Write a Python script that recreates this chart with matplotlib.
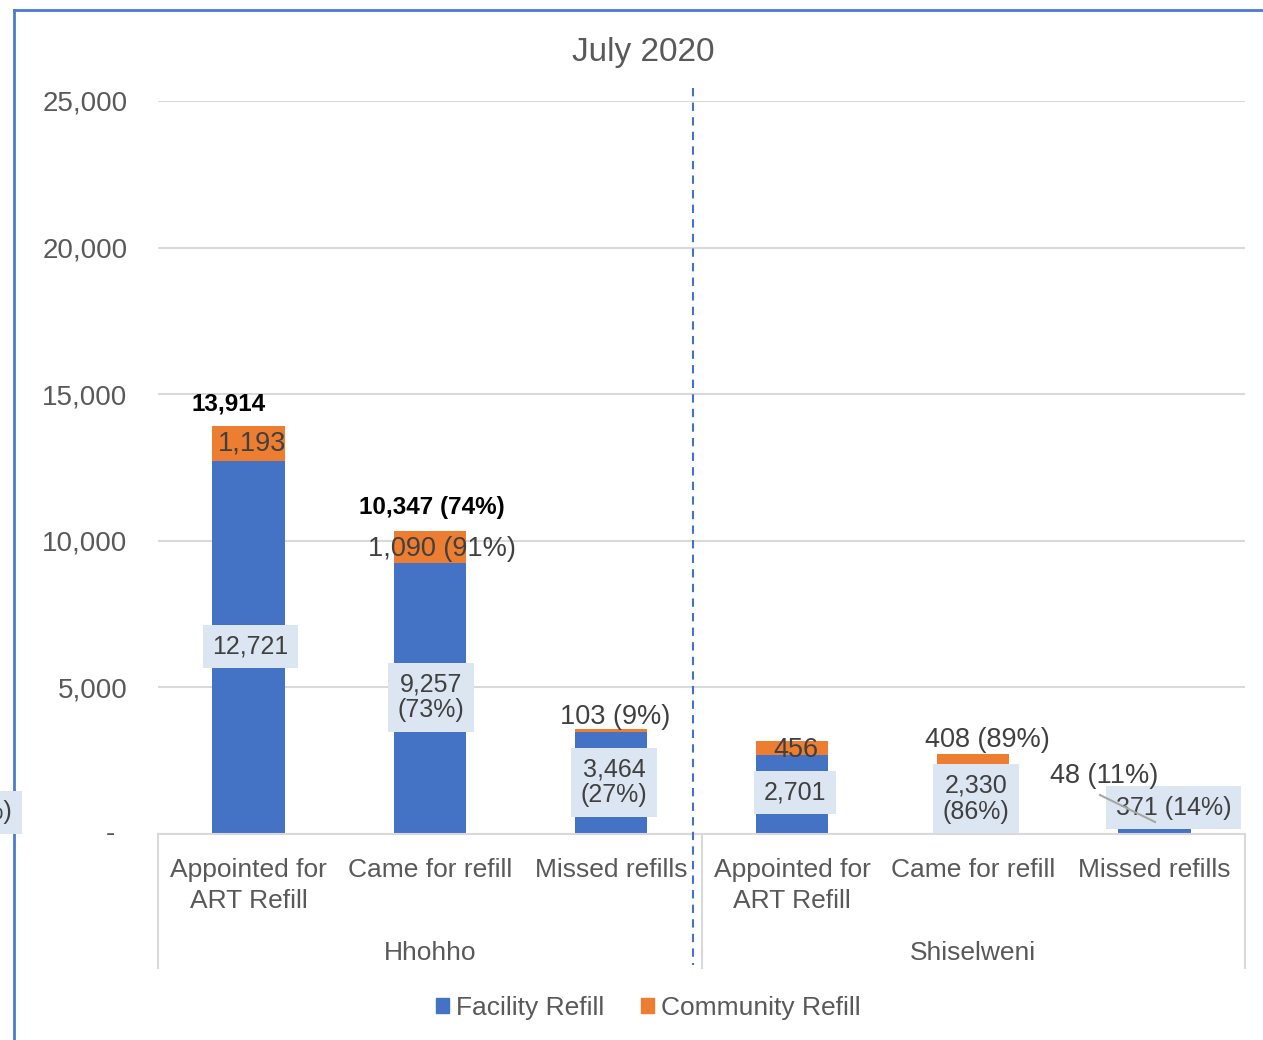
import matplotlib
matplotlib.use("Agg")
import matplotlib.pyplot as plt
import matplotlib.transforms as mtransforms
from matplotlib.lines import Line2D
from matplotlib.patches import Patch
from matplotlib.ticker import FuncFormatter
import numpy as np

# Refill counts, July 2020
regions = ["Hhohho", "Shiselweni"]
categories = ["Appointed for\nART Refill", "Came for refill", "Missed refills"]
facility = [12721, 9257, 3464, 2701, 2330, 371]
community = [1193, 1090, 103, 456, 408, 48]

BLUE = "#4472C4"
ORANGE = "#ED7D31"
TEXT = "#595959"
LABEL = "#404040"
BOXFC = "#DCE6F2"

W, H = 1263, 1040
plt.rcParams["font.family"] = ["Liberation Sans", "DejaVu Sans"]

fig = plt.figure(figsize=(W / 100, H / 100), dpi=100)


def fx(px):
    return px / W


def fy(py):
    return 1 - py / H


ax = fig.add_axes([fx(158), fy(834), fx(1245) - fx(158), fy(101) - fy(834)])

x = np.arange(len(facility))
facility = np.array(facility)
community = np.array(community)
ax.bar(x, facility, width=0.4, color=BLUE, zorder=2)
ax.bar(x, community, width=0.4, bottom=facility, color=ORANGE, zorder=2)

ax.set_xlim(-0.5, len(x) - 0.5)
ax.set_ylim(0, 25000)
ax.set_yticks(np.arange(0, 25001, 5000))
ax.yaxis.set_major_formatter(FuncFormatter(lambda v, p: f"{v:,.0f}" if v else ""))
ax.tick_params(axis="y", length=0, pad=22, labelsize=20, labelcolor=TEXT)
ax.set_xticks([])
ax.grid(axis="y", color="#D9D9D9", linewidth=1.5, zorder=0)
for s in ["left", "right", "top"]:
    ax.spines[s].set_visible(False)
ax.spines["bottom"].set_color("#D9D9D9")
ax.spines["bottom"].set_linewidth(1.5)
ax.text(-(158 - 110) / 1087, 0, "-", transform=ax.get_yaxis_transform(),
        ha="center", va="center", fontsize=20, color=TEXT)

# share of the appointed bar within each region
shares_f = []
shares_c = []
for i in range(len(x)):
    base = (i // 3) * 3
    shares_f.append(round(100 * facility[i] / facility[base]))
    shares_c.append(round(100 * community[i] / community[base]))

box = dict(boxstyle="square,pad=0.38", fc=BOXFC, ec="none")

# facility labels: value, plus share for non-appointed bars
f_off = [(2, -1), (1, -1), (3, -1), (3, -2), (3, -1), (19, -21)]
for i in range(len(x)):
    txt = f"{facility[i]:,}"
    if i % 3 != 0:
        txt += f" ({shares_f[i]}%)" if i == 5 else f"\n({shares_f[i]}%)"
    dx, dy = f_off[i]
    ax.annotate(txt, (x[i], facility[i] / 2), xytext=(dx, -dy),
                textcoords="offset pixels", ha="center", va="center",
                fontsize=18, color=LABEL, bbox=box, zorder=4,
                linespacing=1.1)

# community labels
c_off = [(3, 0), (12, 2), (4, -14), (4, 2), (14, -20), (-50, -46)]
for i in range(len(x)):
    txt = f"{community[i]:,}"
    if i % 3 != 0:
        txt += f" ({shares_c[i]}%)"
    dx, dy = c_off[i]
    ax.annotate(txt, (x[i], facility[i] + community[i] / 2), xytext=(dx, -dy),
                textcoords="offset pixels", ha="center", va="center",
                fontsize=19.5, color=LABEL, zorder=4)

# leader line for the small Shiselweni labels
fig.add_artist(Line2D([fx(1100), fx(1155)], [fy(795), fy(822)],
                      color="#A6A6A6", linewidth=1.5, zorder=5))

# bold totals for Hhohho
totals = facility + community
ax.annotate(f"{totals[0]:,}", (x[0], totals[0]), xytext=(-20, 22),
            textcoords="offset pixels", ha="center", va="center",
            fontsize=17.5, fontweight="bold", color="black")
ax.annotate(f"{totals[1]:,} ({round(100 * totals[1] / totals[0])}%)",
            (x[1], totals[1]), xytext=(2, 23), textcoords="offset pixels",
            ha="center", va="center", fontsize=17.5, fontweight="bold",
            color="black")

# category and region labels below the axis
trans = mtransforms.blended_transform_factory(ax.transData, fig.transFigure)
for i in range(len(x)):
    ax.text(x[i], fy(858), categories[i % 3], transform=trans, ha="center",
            va="top", fontsize=19, color=TEXT, linespacing=1.35)
for g, name in enumerate(regions):
    ax.text(3 * g + 1, fy(953), name, transform=trans, ha="center",
            va="center", fontsize=19, color=TEXT)

for px in [158, 702, 1245]:
    fig.add_artist(Line2D([fx(px), fx(px)], [fy(834), fy(968)],
                          color="#D9D9D9", linewidth=1.5))

# dashed divider between regions
fig.add_artist(Line2D([fx(693), fx(693)], [fy(88), fy(965)], color=BLUE,
                      linewidth=1.5, linestyle=(0, (4, 3))))

fig.text(fx(643), fy(52), "July 2020", ha="center", va="center",
         fontsize=24, color=TEXT)

handles = [Patch(color=BLUE, label="Facility Refill"),
           Patch(color=ORANGE, label="Community Refill")]
fig.legend(handles=handles, loc="center", bbox_to_anchor=(fx(648), fy(1008)),
           ncol=2, frameon=False, fontsize=19, labelcolor=TEXT,
           handlelength=0.5, handleheight=0.5, handletextpad=0.25,
           columnspacing=1.4)

# chart frame edges
fig.add_artist(Line2D([fx(14), fx(14)], [fy(10), 0], color="#4A7BD0", linewidth=2))
fig.add_artist(Line2D([fx(14), 1], [fy(10), fy(10)], color="#4A7BD0", linewidth=2))

# label spilling in from the left
fig.text(fx(12), fy(812), "(14%)", ha="right", va="center", fontsize=18,
         color=LABEL, bbox=box)

fig.savefig("out.png", dpi=100)
